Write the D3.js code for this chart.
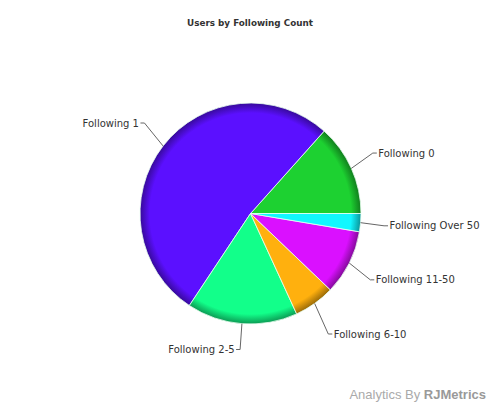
<!DOCTYPE html>
<html>
<head>
<meta charset="utf-8">
<script src="https://cdn.jsdelivr.net/npm/d3@7"></script>
<style>
  html, body { margin: 0; padding: 0; background: #fff; }
  svg { display: block; font-family: Verdana, "DejaVu Sans", sans-serif; }
</style>
</head>
<body>
<div id="chart"></div>
<script>
// data (share of users, %)
const categories = ["Following 0", "Following 1", "Following 2-5", "Following 6-10", "Following 11-50", "Following Over 50"];
const values = [13.4, 52.3, 16.2, 6.0, 9.5, 2.65];
const colors = ["#1dd131", "#5b10ff", "#12ff8a", "#ffb00e", "#da10ff", "#12f7ff"];
const title = "Users by Following Count";

const width = 500;
const height = 403;
const cx = 250.5;
const cy = 213.5;
const radius = 110.5;
const labelRx = 134;
const labelRy = 148;
const labelMaxY = 136;

const svg = d3.select("#chart")
  .append("svg")
  .attr("width", width)
  .attr("height", height);

const data = categories.map((c, i) => ({ name: c, value: values[i], color: colors[i] }));

// gradients: darker rim near the edge (user space = the pie group, origin at centre)
const defs = svg.append("defs");
data.forEach((d, i) => {
  const gr = defs.append("radialGradient")
    .attr("id", "grad" + i)
    .attr("gradientUnits", "userSpaceOnUse")
    .attr("cx", 0).attr("cy", 0).attr("r", radius);
  gr.append("stop").attr("offset", "0%").attr("stop-color", d.color);
  gr.append("stop").attr("offset", "91%").attr("stop-color", d.color);
  gr.append("stop").attr("offset", "100%").attr("stop-color", d3.interpolateRgb(d.color, "#000")(0.4));
});

// counter-clockwise from 3 o'clock: d3 angles are clockwise from 12,
// so start at PI/2 and go negative
const pie = d3.pie()
  .sort(null)
  .value((d) => d.value)
  .startAngle(Math.PI / 2)
  .endAngle(Math.PI / 2 - 2 * Math.PI);

const arcs = pie(data);
const arc = d3.arc().innerRadius(0).outerRadius(radius);

const g = svg.append("g").attr("transform", `translate(${cx},${cy})`);

g.selectAll("path.slice")
  .data(arcs)
  .enter()
  .append("path")
  .attr("class", "slice")
  .attr("d", arc)
  .attr("fill", (d, i) => `url(#grad${i})`)
  .attr("stroke", "#e8fff0")
  .attr("stroke-width", 0.8)
  .attr("stroke-linejoin", "round");

// labels with elbow connectors
arcs.forEach((a) => {
  const mid = (a.startAngle + a.endAngle) / 2;
  const sx = Math.sin(mid), sy = -Math.cos(mid);
  const p0 = [sx * radius, sy * radius];
  const ky = Math.max(-labelMaxY, Math.min(labelMaxY, sy * labelRy));
  const p1 = [sx * labelRx, ky];
  const right = sx >= 0;
  const p2 = [p1[0] + (right ? 4 : -4), p1[1]];

  g.append("polyline")
    .attr("points", [p0, p1, p2].map((p) => p.join(",")).join(" "))
    .attr("fill", "none")
    .attr("stroke", "#666")
    .attr("stroke-width", 1);

  g.append("text")
    .attr("x", p2[0] + (right ? 1.5 : -1.5))
    .attr("y", p2[1])
    .attr("dy", "0.35em")
    .attr("text-anchor", right ? "start" : "end")
    .attr("font-size", 10)
    .attr("fill", "#333")
    .text(a.data.name);
});

// title
svg.append("text")
  .attr("x", 250)
  .attr("y", 26)
  .attr("text-anchor", "middle")
  .attr("font-size", 8.8)
  .attr("font-weight", "bold")
  .attr("fill", "#333")
  .text(title);

// watermark
const wm = svg.append("text")
  .attr("x", 486)
  .attr("y", 399)
  .attr("text-anchor", "end")
  .attr("font-family", "Arial, 'Liberation Sans', sans-serif")
  .attr("font-size", 13)
  .attr("fill", "#aaa");
wm.append("tspan").text("Analytics By ");
wm.append("tspan").attr("fill", "#999").attr("font-weight", "bold").text("RJMetrics");
</script>
</body>
</html>
